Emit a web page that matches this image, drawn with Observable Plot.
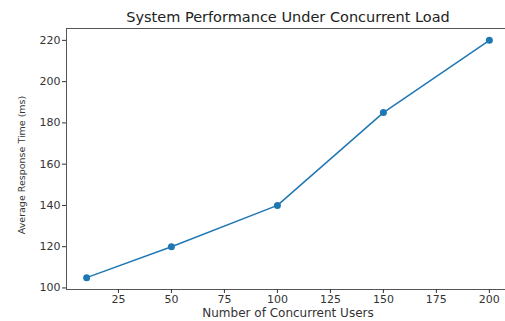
<!DOCTYPE html>
<html>
<head>
<meta charset="utf-8">
<script src="https://cdn.jsdelivr.net/npm/d3@7"></script>
<script src="https://cdn.jsdelivr.net/npm/@observablehq/plot@0.6"></script>
<style>
  html, body { margin: 0; padding: 0; background: #fff; }
  svg { display: block; }
</style>
</head>
<body>
<div id="chart"></div>
<script>
const users = [10, 50, 100, 150, 200];
const responseTimes = [105, 120, 140, 185, 220];
const xTicks = [25, 50, 75, 100, 125, 150, 175, 200];
const yTicks = [100, 120, 140, 160, 180, 200, 220];
const title = "System Performance Under Concurrent Load";
const xLabel = "Number of Concurrent Users";
const yLabel = "Average Response Time (ms)";

const data = users.map((u, i) => ({users: u, time: responseTimes[i]}));
const color = "#1f77b4";
const font = "DejaVu Sans, sans-serif";

const chart = Plot.plot({
  width: 505,
  height: 321,
  marginLeft: 66,
  marginRight: -4,
  marginTop: 28,
  marginBottom: 32,
  style: {fontFamily: font, fontSize: "11px", color: "#333", background: "#fff"},
  x: {domain: [0.5, 209.5]},
  y: {domain: [99.25, 225.75]},
  marks: [
    Plot.frame({stroke: "#555", strokeWidth: 1}),
    Plot.axisX({ticks: xTicks, tickSize: 4, tickPadding: 2, fontSize: 11, label: null}),
    Plot.axisY({ticks: yTicks, tickSize: 4, tickPadding: 2, fontSize: 11, label: null}),
    Plot.axisX({ticks: [], tickSize: 0, label: xLabel, labelAnchor: "center", labelArrow: "none", labelOffset: 27, fontSize: 12}),
    Plot.text([yLabel], {frameAnchor: "left", textAnchor: "middle", lineAnchor: "middle", rotate: -90, dx: -45, dy: 6, text: d => d, fontSize: 9.5, fill: "#333"}),
    Plot.line(data, {x: "users", y: "time", stroke: color, strokeWidth: 1.5}),
    Plot.dot(data, {x: "users", y: "time", fill: color, r: 3.5}),
    Plot.text([title], {frameAnchor: "top", dy: -17, text: d => d, fontSize: 14.5, fill: "#222"})
  ]
});
document.getElementById("chart").appendChild(chart);
</script>
</body>
</html>
